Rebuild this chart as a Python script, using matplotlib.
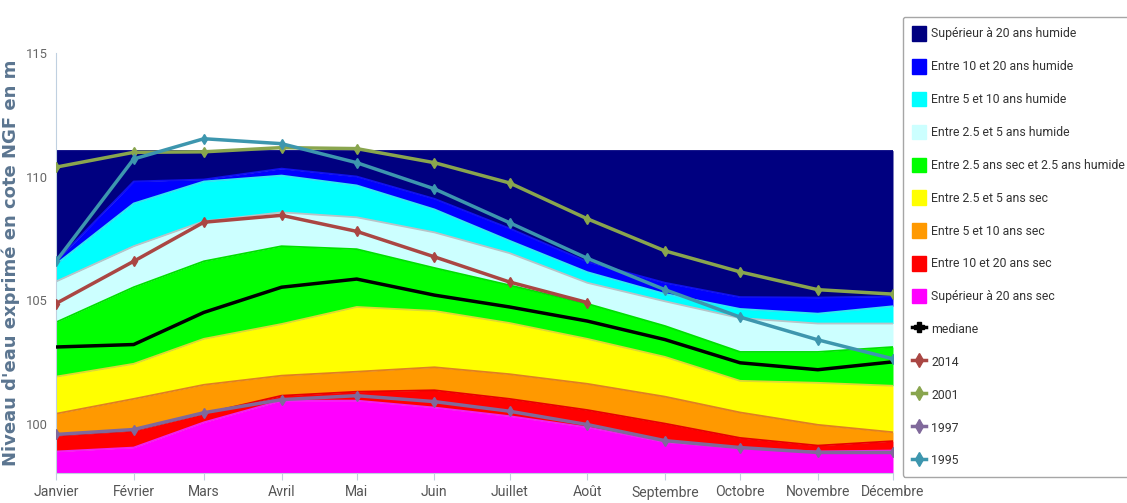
import os
import matplotlib.pyplot as plt
import pandas as pd
from matplotlib import font_manager
from matplotlib.font_manager import FontProperties
from matplotlib.lines import Line2D
from matplotlib.patches import Patch

# police étroite si disponible (le rendu d'origine est très condensé)
fichiers = {os.path.basename(f.fname): f.fname for f in font_manager.fontManager.ttflist}
etroite = None
for nom_fichier in ["NotoSans-Condensed.ttf", "NotoSans-SemiCondensed.ttf", "LiberationSansNarrow-Regular.ttf"]:
    if nom_fichier in fichiers:
        etroite = fichiers[nom_fichier]
        break


def police(taille):
    if etroite:
        return FontProperties(fname=etroite, size=taille)
    return FontProperties(family=["Roboto", "DejaVu Sans"], size=taille * 0.88)


# mois (premier jour de chaque mois, axe en dates)
mois = ["Janvier", "Février", "Mars", "Avril", "Mai", "Juin", "Juillet",
        "Août", "Septembre", "Octobre", "Novembre", "Décembre"]
dates = pd.date_range("2014-01-01", periods=12, freq="MS")

# limites des classes de niveau (m NGF)
plafond = [111.05] * 12
humide_20 = [106.57, 109.8, 109.88, 110.32, 110.0, 109.1, 107.9, 106.55, 105.7, 105.12, 105.1, 105.15]
humide_10 = [106.45, 108.91, 109.8, 110.04, 109.64, 108.67, 107.4, 106.13, 105.25, 104.64, 104.45, 104.75]
humide_5 = [105.75, 107.18, 108.19, 108.55, 108.35, 107.74, 106.9, 105.7, 104.95, 104.27, 104.05, 104.05]
humide_2_5 = [104.1, 105.52, 106.57, 107.18, 107.06, 106.3, 105.6, 104.85, 103.95, 102.9, 102.9, 103.1]
sec_2_5 = [101.9, 102.42, 103.43, 104.03, 104.72, 104.56, 104.07, 103.43, 102.7, 101.73, 101.65, 101.53]
sec_5 = [100.4, 101.0, 101.57, 101.94, 102.1, 102.28, 102.0, 101.61, 101.09, 100.45, 99.95, 99.65]
sec_10 = [99.5, 99.7, 100.4, 101.13, 101.29, 101.35, 101.0, 100.55, 100.0, 99.42, 99.11, 99.29]
sec_20 = [98.87, 99.03, 100.05, 100.93, 100.93, 100.65, 100.3, 99.85, 99.25, 99.0, 98.87, 98.91]
plancher = [97.0] * 12

mediane = [103.1, 103.2, 104.5, 105.52, 105.85, 105.2, 104.72, 104.15, 103.4, 102.46, 102.18, 102.5]
annee_2014 = [104.86, 106.57, 108.15, 108.43, 107.78, 106.75, 105.73, 104.9]
annee_2001 = [110.38, 110.98, 111.0, 111.17, 111.13, 110.56, 109.74, 108.29, 106.99, 106.14, 105.42, 105.24]
annee_1997 = [99.56, 99.76, 100.44, 100.97, 101.13, 100.89, 100.5, 99.96, 99.31, 99.03, 98.83, 98.83]
annee_1995 = [106.57, 110.71, 111.53, 111.33, 110.56, 109.5, 108.13, 106.69, 105.42, 104.31, 103.39, 102.62]

classes = [
    ("Supérieur à 20 ans humide", plafond, humide_20, "#000080", "#000080"),
    ("Entre 10 et 20 ans humide", humide_20, humide_10, "#0000FF", "#1010f0"),
    ("Entre 5 et 10 ans humide", humide_10, humide_5, "#00FFFF", "#30e8f0"),
    ("Entre 2.5 et 5 ans humide", humide_5, humide_2_5, "#CCFFFF", "#b8c4c8"),
    ("Entre 2.5 ans sec et 2.5 ans humide", humide_2_5, sec_2_5, "#00FF00", "#00e000"),
    ("Entre 2.5 et 5 ans sec", sec_2_5, sec_5, "#FFFF00", "#e0d830"),
    ("Entre 5 et 10 ans sec", sec_5, sec_10, "#FF9900", "#e08020"),
    ("Entre 10 et 20 ans sec", sec_10, sec_20, "#FF0000", "#e80000"),
    ("Supérieur à 20 ans sec", sec_20, plancher, "#FF00FF", "#f020f0"),
]

annees = [
    ("2014", annee_2014, "#AA4643"),
    ("2001", annee_2001, "#89A54E"),
    ("1997", annee_1997, "#80699B"),
    ("1995", annee_1995, "#3D96AE"),
]

fig = plt.figure(figsize=(11.27, 5.03), dpi=100)
ax = fig.add_axes([56 / 1127, 1 - 473 / 503, (893 - 56) / 1127, (473 - 53) / 503])

handles = []
for nom, haut, bas, couleur, bord in classes:
    ax.fill_between(dates, bas, haut, color=couleur, lw=0, zorder=1)
    ax.plot(dates, haut, color=bord, lw=1.3, zorder=2)
    handles.append(Patch(facecolor=couleur, edgecolor=couleur, label=nom))

ax.plot(dates, mediane, color="black", lw=2.5, zorder=4)
handles.append(Line2D([], [], color="black", lw=2.5, marker="P", ms=7, label="mediane"))

for nom, valeurs, couleur in annees:
    ax.plot(dates[:len(valeurs)], valeurs, color=couleur, lw=2.5, marker="d", ms=5.5, zorder=5)
    handles.append(Line2D([], [], color=couleur, lw=2.5, marker="d", ms=7, label=nom))

ax.set_xlim(dates[0], dates[-1])
ax.set_ylim(98, 115)
ax.set_yticks([100, 105, 110, 115])
ax.set_xticks(dates)
ax.set_xticklabels(mois)
ax.tick_params(axis="x", length=5, color="#C0D0E0", labelcolor="#555555", pad=4)
ax.tick_params(axis="y", length=0, labelcolor="#666666", pad=6)
for lbl in ax.get_xticklabels():
    lbl.set_fontproperties(police(11.5))
for lbl in ax.get_yticklabels():
    lbl.set_fontproperties(police(10.5))
for s in ["top", "right"]:
    ax.spines[s].set_visible(False)
ax.spines["left"].set_color("#C0D0E0")
ax.spines["bottom"].set_color("#C0D0E0")

fig.text(11 / 1127, 1 - 263 / 503, "Niveau d'eau exprimé en cote NGF en m",
         rotation=90, ha="center", va="center", fontsize=13, fontweight="bold",
         color="#5b7590", family="DejaVu Sans")

leg = fig.legend(handles=handles, loc="upper left", mode="expand",
                 bbox_to_anchor=(903 / 1127, 1 - 17 / 503, 240 / 1127, 0),
                 prop=police(10.0), labelcolor="#333333", frameon=True, fancybox=True,
                 handlelength=1.1, handleheight=1.45, handletextpad=0.45,
                 labelspacing=1.5, borderpad=0.75, borderaxespad=0)
leg.get_frame().set_edgecolor("#909090")
leg.get_frame().set_linewidth(1.0)

fig.savefig("out.png", dpi=100)
